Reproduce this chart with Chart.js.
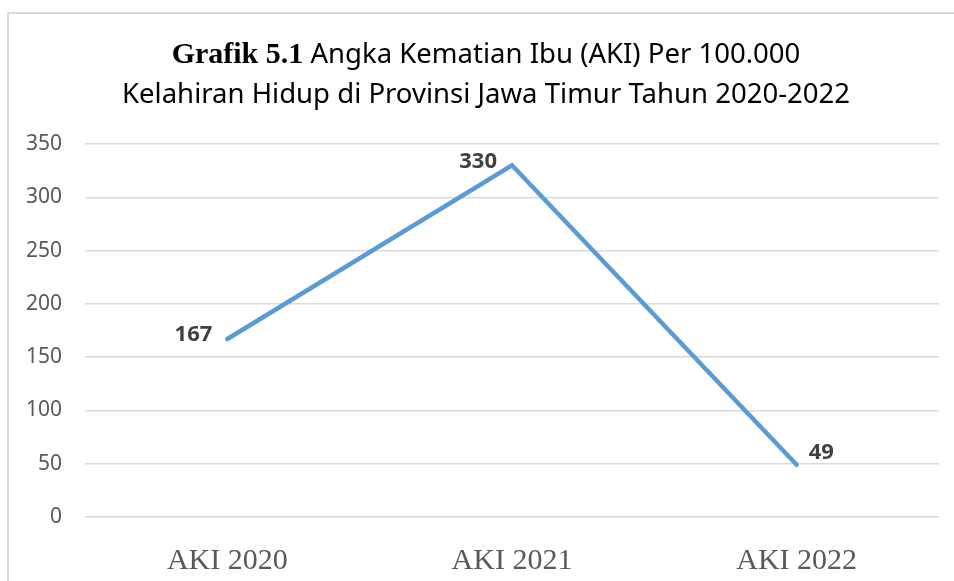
<!DOCTYPE html>
<html>
<head>
<meta charset="utf-8">
<title>Grafik 5.1 AKI Jawa Timur</title>
<script src="https://cdn.jsdelivr.net/npm/chart.js@4"></script>
<style>
  html, body { margin: 0; padding: 0; background: #fff; }
  #wrap { position: relative; width: 954px; height: 581px; overflow: hidden; }
  #frame { position: absolute; left: 7px; top: 12px; width: 1000px; height: 700px;
           border-left: 2px solid #d9d9d9; border-top: 2px solid #d9d9d9; }
  #chart { position: absolute; left: 0; top: 0; }
</style>
</head>
<body>
<div id="wrap">
  <div id="frame"></div>
  <canvas id="chart" width="954" height="581"></canvas>
</div>
<script>
/*
 * Grafik 5.1 — Angka Kematian Ibu (AKI) per 100.000 kelahiran hidup,
 * Provinsi Jawa Timur 2020-2022. Single line series, values labelled.
 */
'use strict';

var CATEGORIES = ['AKI 2020', 'AKI 2021', 'AKI 2022'];
var AKI_VALUES = [167, 330, 49];
var Y_TICKS = [0, 50, 100, 150, 200, 250, 300, 350];

// where each value label sits relative to its point
var LABEL_ALIGN = ['left', 'left', 'right'];

var SANS = '"Noto Sans", "Open Sans", sans-serif';
var SERIF = '"Liberation Serif", "Times New Roman", serif';

// two-line title: bold serif lead-in then condensed sans text
var titlePlugin = {
  id: 'aki-title',
  afterDraw: function (chart) {
    var ctx = chart.ctx;
    var sansFont = '28px ' + SANS;
    var leadFont = 'bold 30px ' + SERIF;
    var lead = 'Grafik 5.1';
    var rest = ' Angka Kematian Ibu (AKI) Per 100.000';
    var line2 = 'Kelahiran Hidup di Provinsi Jawa Timur Tahun 2020-2022';
    var cx = 486;

    ctx.save();
    ctx.fillStyle = '#000';
    ctx.textBaseline = 'alphabetic';
    ctx.textAlign = 'left';

    // squeeze the sans text so it runs about as wide as Calibri would
    ctx.font = sansFont;
    var sx = 728 / ctx.measureText(line2).width;
    var restW = ctx.measureText(rest).width * sx;
    ctx.font = leadFont;
    var leadW = ctx.measureText(lead).width;

    var x1 = cx - (leadW + restW) / 2;
    ctx.fillText(lead, x1, 63);
    ctx.save();
    ctx.translate(x1 + leadW, 63);
    ctx.scale(sx, 1);
    ctx.font = sansFont;
    ctx.fillText(rest, 0, 0);
    ctx.restore();

    ctx.save();
    ctx.translate(cx - 364, 103);
    ctx.scale(sx, 1);
    ctx.font = sansFont;
    ctx.fillText(line2, 0, 0);
    ctx.restore();

    ctx.restore();
  }
};

var valueLabels = {
  id: 'aki-values',
  afterDatasetsDraw: function (chart) {
    var ctx = chart.ctx;
    var meta = chart.getDatasetMeta(0);
    ctx.save();
    ctx.font = 'bold 22px ' + SANS;
    ctx.fillStyle = '#404040';
    ctx.textBaseline = 'middle';
    meta.data.forEach(function (pt, i) {
      var left = LABEL_ALIGN[i] === 'left';
      ctx.textAlign = left ? 'right' : 'left';
      // right-hand label sits a little higher, as in the source sheet
      ctx.fillText(String(AKI_VALUES[i]), pt.x + (left ? -15 : 12), pt.y + (left ? -4 : -12));
    });
    ctx.restore();
  }
};

new Chart(document.getElementById('chart'), {
  type: 'line',
  data: {
    labels: CATEGORIES,
    datasets: [{
      label: 'AKI',
      data: AKI_VALUES,
      borderColor: '#5B9BD5',
      backgroundColor: '#5B9BD5',
      borderWidth: 4.5,
      borderCapStyle: 'round',
      borderJoinStyle: 'miter',
      pointRadius: 0,
      pointHoverRadius: 0,
      tension: 0,
      fill: false
    }]
  },
  options: {
    responsive: false,
    animation: false,
    layout: { padding: { top: 144, right: 15, bottom: 0, left: 0 } },
    plugins: {
      legend: { display: false },
      title: { display: false },
      tooltip: { enabled: false }
    },
    scales: {
      x: {
        offset: true,
        grid: { display: false },
        border: { display: false },
        ticks: { color: '#595959', padding: 18, font: { family: SERIF, size: 30 } },
        afterFit: function (s) { s.height = 64; }
      },
      y: {
        min: 0,
        max: 350,
        afterBuildTicks: function (s) {
          s.ticks = Y_TICKS.map(function (v) { return { value: v }; });
        },
        grid: { color: '#d9d9d9', lineWidth: 1.5, drawTicks: false },
        border: { display: false },
        ticks: { color: '#595959', padding: 23, font: { family: SANS, size: 21 } },
        afterFit: function (s) { s.width = 85; }
      }
    }
  },
  plugins: [titlePlugin, valueLabels]
});
</script>
</body>
</html>
